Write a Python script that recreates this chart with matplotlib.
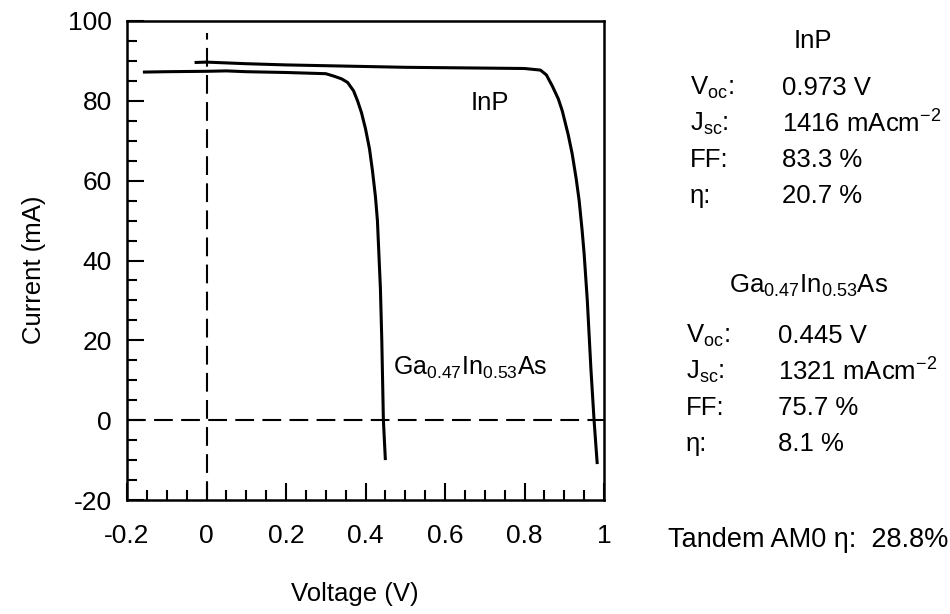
import matplotlib
matplotlib.use('Agg')
import matplotlib.pyplot as plt
from matplotlib.ticker import MultipleLocator, FixedLocator, FixedFormatter

plt.rcParams['font.family'] = ['Liberation Sans', 'DejaVu Sans']
plt.rcParams['mathtext.fontset'] = 'custom'
plt.rcParams['mathtext.rm'] = 'Liberation Sans'
plt.rcParams['mathtext.it'] = 'Liberation Sans:italic'
plt.rcParams['mathtext.bf'] = 'Liberation Sans:bold'

# I-V 曲线数据
inp_v = [-0.03, 0.0, 0.1, 0.2, 0.3, 0.4, 0.5, 0.6, 0.7, 0.8, 0.84, 0.855, 0.87,
         0.885, 0.895, 0.91, 0.92, 0.93, 0.9375, 0.945, 0.95, 0.958, 0.967,
         0.975, 0.983]
inp_i = [89.6, 89.7, 89.3, 89.0, 88.8, 88.6, 88.4, 88.3, 88.2, 88.1, 87.7, 86.5,
         83.7, 80.5, 77.5, 71.5, 66.7, 60.5, 55.0, 47.5, 41.7, 30.0, 13.0,
         0.0, -11.0]

gainas_v = [-0.16, -0.1, 0.0, 0.05, 0.1, 0.2, 0.3, 0.32, 0.34, 0.355, 0.37,
            0.38, 0.39, 0.40, 0.41, 0.4175, 0.425, 0.43, 0.4375, 0.441, 0.445,
            0.45]
gainas_i = [87.2, 87.3, 87.4, 87.5, 87.3, 87.1, 86.8, 86.2, 85.5, 84.6, 82.5,
            80.0, 77.0, 73.0, 68.0, 62.5, 56.0, 50.0, 33.0, 20.0, 0.0, -10.0]

x_ticks = [-0.2, 0, 0.2, 0.4, 0.6, 0.8, 1.0]
x_labels = ['-0.2', '0', '0.2', '0.4', '0.6', '0.8', '1']
y_ticks = [-20, 0, 20, 40, 60, 80, 100]
y_labels = ['-20', '0', '20', '40', '60', '80', '100']

# 右侧参数表
param_names = [r'V$_{\mathrm{oc}}$:', r'J$_{\mathrm{sc}}$:', 'FF:', 'η:']
inp_values = ['0.973 V', r'1416 mAcm$^{\mathrm{-2}}$', '83.3 %', '20.7 %']
gainas_values = ['0.445 V', r'1321 mAcm$^{\mathrm{-2}}$', '75.7 %', '8.1 %']

W, H = 950, 614
fig = plt.figure(figsize=(9.5, 6.14), dpi=100)
ax = fig.add_axes([127 / W, 1 - 500 / H, 477 / W, 479 / H])

ax.plot(inp_v, inp_i, color='black', lw=2.2, solid_capstyle='butt')
ax.plot(gainas_v, gainas_i, color='black', lw=2.2, solid_capstyle='butt')

# 虚线坐标轴
ax.plot([-0.2, 1.0], [0, 0], color='black', lw=1.5, dashes=(9, 4))
ax.plot([0, 0], [-20, 97], color='black', lw=1.5, dashes=(9, 4))

ax.set_xlim(-0.2, 1.0)
ax.set_ylim(-20, 100)
ax.xaxis.set_major_locator(FixedLocator(x_ticks))
ax.xaxis.set_major_formatter(FixedFormatter(x_labels))
ax.xaxis.set_minor_locator(MultipleLocator(0.05))
ax.yaxis.set_major_locator(FixedLocator(y_ticks))
ax.yaxis.set_major_formatter(FixedFormatter(y_labels))
ax.yaxis.set_minor_locator(MultipleLocator(5))

ax.tick_params(which='both', direction='in', width=1.5, top=False, right=False)
ax.tick_params(which='major', length=12, labelsize=19)
ax.tick_params(which='minor', length=7)
ax.tick_params(axis='x', which='major', pad=17)
ax.tick_params(axis='y', which='major', pad=11)
for s in ax.spines.values():
    s.set_linewidth(1.8)

ax.set_xlabel('Voltage (V)', fontsize=18.5)
ax.set_ylabel('Current (mA)', fontsize=18.5)
ax.xaxis.set_label_coords(0.478, -0.172)
ax.yaxis.set_label_coords(-0.17, 0.48)

ax.text(0.7125, 79.5, 'InP', fontsize=18.5, ha='center', va='center')
ax.text(0.47, 13, r'Ga$_{0.47}$In$_{0.53}$As', fontsize=18, ha='left', va='center')

# 右侧文字
fs = 18.5
fig.text(813 / W, 1 - 41 / H, 'InP', fontsize=fs, ha='center', va='center')
for k, (name, val) in enumerate(zip(param_names, inp_values)):
    y = 88 + 36 * k
    fig.text(690 / W, 1 - y / H, name, fontsize=fs, ha='left', va='center')
    fig.text(782 / W, 1 - y / H, val, fontsize=fs, ha='left', va='center')

fig.text(809 / W, 1 - 286 / H, r'Ga$_{0.47}$In$_{0.53}$As', fontsize=fs,
         ha='center', va='center')
for k, (name, val) in enumerate(zip(param_names, gainas_values)):
    y = 336 + 36 * k
    fig.text(686 / W, 1 - y / H, name, fontsize=fs, ha='left', va='center')
    fig.text(778 / W, 1 - y / H, val, fontsize=fs, ha='left', va='center')

fig.text(668 / W, 1 - 540 / H, 'Tandem AM0 η:  28.8%', fontsize=19.5,
         ha='left', va='center')

fig.savefig('out.png', dpi=100)
